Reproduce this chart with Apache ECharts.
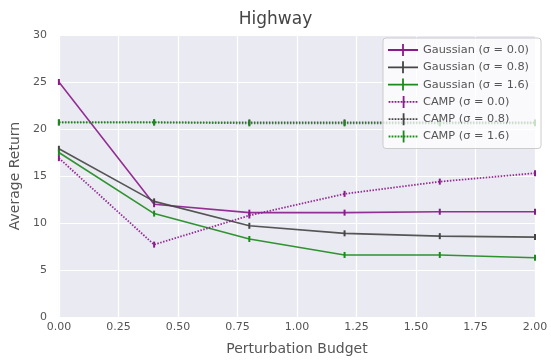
<!DOCTYPE html>
<html>
<head>
<meta charset="utf-8">
<script src="https://cdn.jsdelivr.net/npm/echarts@6/dist/echarts.min.js"></script>
<style>
  html, body { margin: 0; padding: 0; background: #fff; }
  #chart { width: 551px; height: 361px; }
</style>
</head>
<body>
<div id="chart"></div>
<script>
// Perturbation budgets evaluated
const budgets = [0.0, 0.4, 0.8, 1.2, 1.6, 2.0];

// Average return per method / noise level
const gauss00 = [25.0, 12.0, 11.1, 11.1, 11.2, 11.2];
const gauss08 = [17.9, 12.3, 9.7, 8.9, 8.6, 8.5];
const gauss16 = [17.5, 11.0, 8.3, 6.6, 6.6, 6.3];
const camp00  = [16.9, 7.7, 10.8, 13.1, 14.4, 15.3];
const camp08  = [20.7, 20.7, 20.7, 20.7, 20.7, 20.7];
const camp16  = [20.7, 20.7, 20.6, 20.6, 20.6, 20.6];

const names = [
  'Gaussian (σ = 0.0)', 'Gaussian (σ = 0.8)', 'Gaussian (σ = 1.6)',
  'CAMP (σ = 0.0)', 'CAMP (σ = 0.8)', 'CAMP (σ = 1.6)'
];
const yTicks = [0, 5, 10, 15, 20, 25, 30];

const PURPLE = '#8a1a8a', GRAY = '#454545', GREEN = '#1b8a1b';

// Legend handles: a horizontal line (solid or dotted) crossed by a vertical tick
const ICON_SOLID = 'path://M0,5.1 H30 V6.9 H0 Z M14.1,0 H15.9 V12 H14.1 Z';
let dots = '';
for (let x = 0; x < 30; x += 3) dots += 'M' + x + ',5.1 H' + (x + 1.8) + ' V6.9 H' + x + ' Z ';
const ICON_DOTTED = 'path://' + dots + 'M14.1,0 H15.9 V12 H14.1 Z';

function series(name, vals, color, dotted) {
  return {
    name: name,
    type: 'line',
    data: budgets.map((b, i) => [b, vals[i]]),
    symbol: 'rect',
    symbolSize: [2, 6],
    showSymbol: true,
    itemStyle: { color: color },
    lineStyle: { color: color, width: dotted ? 1.8 : 1.6, type: dotted ? [1.5, 1.5] : 'solid', opacity: 0.9 },
    emphasis: { disabled: true },
    z: 3
  };
}

const chart = echarts.init(document.getElementById('chart'));
chart.setOption({
  animation: false,
  backgroundColor: '#ffffff',
  textStyle: { fontFamily: 'DejaVu Sans' },
  title: {
    text: 'Highway',
    left: 'center',
    top: 6,
    textStyle: { fontFamily: 'DejaVu Sans', fontSize: 17, fontWeight: 'normal', color: '#444' }
  },
  grid: {
    left: 56, right: 16, top: 35, bottom: 43,
    show: true, backgroundColor: '#eaeaf2', borderWidth: 0
  },
  xAxis: {
    type: 'value',
    min: 0, max: 2, interval: 0.25,
    name: 'Perturbation Budget',
    nameLocation: 'middle',
    nameGap: 25,
    nameTextStyle: { fontSize: 14, color: '#555' },
    axisLine: { show: false },
    axisTick: { show: false },
    splitLine: { lineStyle: { color: '#ffffff', width: 1.2 } },
    axisLabel: {
      fontSize: 11, color: '#555', margin: 5,
      formatter: v => v.toFixed(2)
    }
  },
  yAxis: {
    type: 'value',
    min: 0, max: 30, interval: 5,
    name: 'Average Return',
    nameLocation: 'middle',
    nameGap: 27,
    nameTextStyle: { fontSize: 14, color: '#555' },
    axisLine: { show: false },
    axisTick: { show: false },
    splitLine: { lineStyle: { color: '#ffffff', width: 1.2 } },
    axisLabel: {
      fontSize: 11, color: '#555', margin: 12,
      formatter: v => yTicks.includes(v) ? String(v) : ''
    }
  },
  legend: {
    orient: 'vertical',
    left: 383,
    top: 38,
    itemWidth: 30,
    itemHeight: 12,
    itemGap: 5.3,
    padding: [6, 12, 6, 5],
    backgroundColor: 'rgba(255,255,255,0.75)',
    borderColor: '#cccccc',
    borderWidth: 1,
    borderRadius: 3,
    textStyle: { fontSize: 11.3, color: '#555' },
    data: names.map((n, i) => ({ name: n, icon: i < 3 ? ICON_SOLID : ICON_DOTTED }))
  },
  series: [
    series(names[0], gauss00, PURPLE, false),
    series(names[1], gauss08, GRAY, false),
    series(names[2], gauss16, GREEN, false),
    series(names[3], camp00, PURPLE, true),
    series(names[4], camp08, GRAY, true),
    series(names[5], camp16, GREEN, true)
  ]
});
</script>
</body>
</html>
